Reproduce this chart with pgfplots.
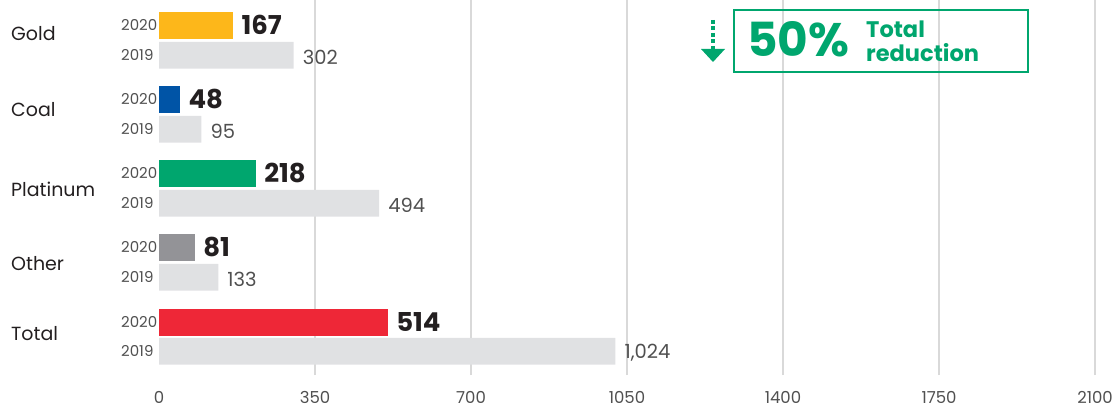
\documentclass[border=0pt]{standalone}
\usepackage{pgfplots}
\pgfplotsset{compat=1.18}
\usepackage{fontspec}
\setmainfont{Poppins}
\definecolor{cgold}{HTML}{FDB71A}
\definecolor{cblue}{HTML}{0054A6}
\definecolor{cgreen}{HTML}{00A66E}
\definecolor{cgrey}{HTML}{939397}
\definecolor{cred}{HTML}{EE2737}
\definecolor{clight}{HTML}{E0E1E3}
\definecolor{cgrid}{HTML}{D9D9D9}
\definecolor{ctext}{HTML}{231F20}
\definecolor{csoft}{HTML}{505050}
\begin{document}
\begin{tikzpicture}[x=1pt,y=1pt]
\begin{axis}[
  at={(159pt,37pt)}, anchor=south west,
  width=936pt, height=375pt, scale only axis,
  xmin=0, xmax=2100, ymin=37, ymax=412,
  clip=false,
  xbar, bar width=26.7pt, bar shift=0pt,
  axis line style={draw=none},
  major tick length=0pt,
  xtick={350,700,1050,1400,1750,2100},
  extra x ticks={0}, extra x tick style={grid=none},
  xmajorgrids, grid style={cgrid, line width=1.4pt},
  ytick=\empty,
  /pgf/number format/assume math mode=true,
  xticklabel={\pgfmathprintnumber[1000 sep={}, assume math mode=true]{\tick}},
  xticklabel style={font=\fontsize{16.5}{19}\selectfont, text=csoft, yshift=-13pt},
  point meta=x,
  nodes near coords={\pgfmathprintnumber[1000 sep={,}, assume math mode=true]{\pgfplotspointmeta}},
  nodes near coords align=horizontal,
  y2020/.style={draw=none, every node near coord/.append style={font=\bfseries\fontsize{26}{30}\selectfont, text=ctext, inner sep=0pt, xshift=8pt, anchor=west}},
  y2019/.style={draw=none, fill=clight, every node near coord/.append style={font=\fontsize{19.5}{23}\selectfont, text=csoft, inner sep=0pt, xshift=9pt, yshift=-2pt, anchor=west}},
]
% 2020 bars (y = 412 - pixel row of bar centre)
\addplot[y2020, fill=cgold] coordinates {(167,386.7)};
\addplot[y2020, fill=cblue] coordinates {(48,312.7)};
\addplot[y2020, fill=cgreen] coordinates {(218,238.7)};
\addplot[y2020, fill=cgrey] coordinates {(81,164.7)};
\addplot[y2020, fill=cred] coordinates {(514,89.7)};
% 2019 bars
\addplot[y2019] coordinates {(302,356.7) (95,282.7) (494,208.7) (133,134.7) (1024,60.8)};
\end{axis}
% category labels
\begin{scope}[every node/.style={anchor=west, inner sep=0pt, text=ctext, font=\fontsize{19}{22}\selectfont}]
\node at (11,378) {Gold};
\node at (11,302) {Coal};
\node at (11,223) {Platinum};
\node at (11,148) {Other};
\node at (11,78) {Total};
\end{scope}
% year labels
\begin{scope}[every node/.style={anchor=west, inner sep=0pt, text=csoft, font=\fontsize{15}{17}\selectfont}]
\node at (121,386.7) {2020}; \node at (121,356.7) {2019};
\node at (121,312.7) {2020}; \node at (121,282.7) {2019};
\node at (121,238.7) {2020}; \node at (121,208.7) {2019};
\node at (121,164.7) {2020}; \node at (121,134.7) {2019};
\node at (121,89.7) {2020};  \node at (121,60.8) {2019};
\end{scope}
% reduction box
\draw[cgreen, line width=2pt] (734,402) rectangle (1028,340);
\draw[cgreen, line width=3.5pt, dash pattern=on 4pt off 2.5pt] (713,392) -- (713,362);
\fill[cgreen] (701,363) -- (725,363) -- (713,350) -- cycle;
\node[anchor=base west, inner sep=0pt, text=cgreen, font=\bfseries\fontsize{47}{50}\selectfont] at (747,355) {50\%};
\node[anchor=base west, inner sep=0pt, text=cgreen, font=\bfseries\fontsize{22.5}{26}\selectfont] at (866,374) {Total};
\node[anchor=base west, inner sep=0pt, text=cgreen, font=\bfseries\fontsize{22.5}{26}\selectfont] at (866,350) {reduction};
\pgfresetboundingbox
\path[use as bounding box] (0,0) rectangle (1115,412);
\end{tikzpicture}
\end{document}
